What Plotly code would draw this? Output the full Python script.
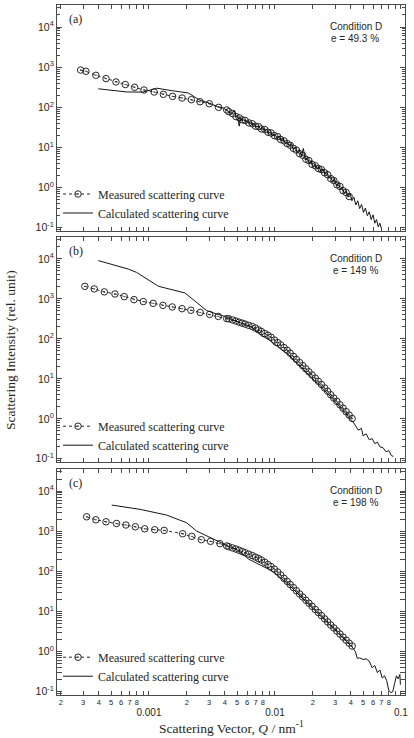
import plotly.graph_objects as go

# ---------------- data ----------------
# Panel (a)  e = 49.3 %
q_meas_a = [2.87e-4, 3.16e-4, 3.79e-4, 4.56e-4, 5.47e-4, 6.49e-4, 7.69e-4, 9.13e-4, 1.10e-3, 1.30e-3,
            1.54e-3, 1.83e-3, 2.17e-3, 2.54e-3, 3.01e-3, 3.57e-3, 4.14e-3,
            0.0043, 0.0046, 0.0049, 0.0052, 0.0055, 0.0058, 0.0062, 0.0066, 0.0070, 0.0074,
            0.0078, 0.0083, 0.0088, 0.0093, 0.0099, 0.0105, 0.0111, 0.0118, 0.0125, 0.0132,
            0.0140, 0.0148, 0.0157, 0.0166, 0.0176, 0.0186, 0.0197, 0.0209, 0.0221, 0.0234,
            0.0248, 0.0262, 0.0277, 0.0293, 0.0310, 0.0328, 0.0347, 0.0367, 0.0388]
i_meas_a = [850, 790, 630, 520, 430, 370, 316, 271, 241, 211,
            188, 171, 155, 138, 123, 100, 86,
            78, 70, 59, 55, 49, 47, 41, 39, 34, 33,
            29, 28, 24, 23, 19.8, 18.6, 15.8, 14.6, 12.5, 11.4,
            9.5, 8.6, 7.0, 6.4, 5.1, 4.7, 3.8, 3.5, 3.0, 2.8,
            2.35, 2.1, 1.68, 1.5, 1.18, 1.07, 0.84, 0.76, 0.60]
q_calc_a = [3.96e-4, 5.2e-4, 6.65e-4, 8.96e-4, 1.15e-3, 1.5e-3, 1.87e-3, 2.05e-3, 2.54e-3, 3.0e-3,
            3.5e-3, 3.9e-3,
            4.3e-3, 4.45e-3, 4.6e-3, 4.75e-3, 4.9e-3, 5.05e-3, 5.2e-3, 5.35e-3, 5.5e-3, 5.7e-3,
            5.9e-3, 6.1e-3, 6.3e-3, 6.5e-3, 6.7e-3, 6.9e-3, 7.1e-3, 7.4e-3, 7.7e-3, 8.0e-3,
            8.3e-3, 8.6e-3, 8.9e-3, 9.2e-3, 9.6e-3, 1.0e-2, 1.04e-2, 1.08e-2, 1.12e-2, 1.16e-2,
            1.2e-2, 1.25e-2, 1.3e-2, 1.35e-2, 1.4e-2, 1.45e-2, 1.5e-2, 1.56e-2, 1.62e-2, 1.68e-2,
            1.74e-2, 1.8e-2, 1.87e-2, 1.94e-2, 2.01e-2, 2.08e-2, 2.16e-2, 2.24e-2, 2.32e-2, 2.4e-2,
            2.49e-2, 2.58e-2, 2.67e-2, 2.77e-2, 2.87e-2, 2.97e-2, 3.08e-2, 3.19e-2, 3.3e-2, 3.42e-2,
            3.54e-2, 3.67e-2, 3.8e-2, 3.94e-2, 4.08e-2, 4.23e-2, 4.38e-2, 4.54e-2, 4.7e-2, 4.87e-2,
            5.04e-2, 5.22e-2, 5.41e-2, 5.6e-2, 5.8e-2, 6.0e-2, 6.2e-2, 6.4e-2, 6.6e-2, 6.8e-2,
            7.0e-2]
i_calc_a = [290, 268, 242, 240, 300, 262, 233, 228, 150, 128,
            105, 96,
            78, 66, 72, 84, 58, 62, 34, 55, 46, 50,
            42, 47, 38, 43, 35, 39, 32, 35, 28, 32,
            25, 29, 22, 25, 19.5, 21.5, 16.5, 19.5, 14.5, 16.8,
            12.8, 14.0, 10.8, 12.6, 8.8, 10.2, 7.3, 9.0, 6.0, 9.5,
            4.9, 5.6, 4.0, 4.8, 3.3, 3.9, 2.9, 3.4, 2.4, 2.95,
            2.1, 2.5, 1.7, 1.95, 1.35, 1.7, 1.08, 1.35, 0.88, 1.05,
            0.72, 0.85, 0.58, 0.72, 0.47, 0.58, 0.37, 0.47, 0.30, 0.38,
            0.24, 0.31, 0.2, 0.25, 0.16, 0.21, 0.13, 0.16, 0.105, 0.13,
            0.095]

# Panel (b)  e = 149 %
q_meas_b = [3.10e-4, 3.68e-4, 4.42e-4, 5.37e-4, 6.37e-4, 7.60e-4, 9.02e-4, 1.08e-3, 1.29e-3, 1.53e-3,
            1.83e-3, 2.15e-3, 2.55e-3, 3.03e-3, 3.55e-3, 4.14e-3,
            0.0043, 0.0046, 0.0049, 0.0052, 0.0055, 0.0058, 0.0062, 0.0066, 0.0070, 0.0074,
            0.0078, 0.0083, 0.0088, 0.0093, 0.0099, 0.0105, 0.0111, 0.0118, 0.0125, 0.0132,
            0.0140, 0.0148, 0.0157, 0.0166, 0.0176, 0.0186, 0.0197, 0.0209, 0.0221, 0.0234,
            0.0248, 0.0262, 0.0277, 0.0293, 0.0310, 0.0328, 0.0347, 0.0367, 0.0388, 0.0410]
i_meas_b = [2065, 1780, 1500, 1330, 1140, 960, 860, 775, 690, 630,
            570, 520, 460, 410, 365, 322,
            318, 298, 279, 262, 247, 234, 218, 204, 186, 168,
            153, 136, 123, 110, 93.5, 81, 70.6, 60.6, 52.1, 43.8,
            36.5, 30.6, 25.5, 21.4, 17.8, 15.0, 12.5, 10.4, 8.7, 7.2,
            5.9, 4.9, 4.0, 3.3, 2.73, 2.24, 1.84, 1.51, 1.24, 1.02]
q_calc_b = [3.96e-4, 6.85e-4, 7.98e-4, 1.19e-3, 1.93e-3, 2.87e-3, 3.44e-3, 4.0e-3, 4.6e-3, 5.2e-3,
            5.8e-3, 6.6e-3, 7.0e-3, 7.4e-3, 7.8e-3, 8.3e-3, 8.8e-3, 9.3e-3, 9.9e-3, 1.05e-2,
            1.11e-2, 1.18e-2, 1.25e-2, 1.32e-2, 1.40e-2, 1.48e-2, 1.57e-2, 1.66e-2, 1.76e-2, 1.86e-2,
            1.97e-2, 2.09e-2, 2.21e-2, 2.34e-2, 2.48e-2, 2.62e-2, 2.77e-2, 2.93e-2, 3.10e-2, 3.28e-2,
            3.47e-2, 3.67e-2, 3.88e-2, 4.10e-2, 4.35e-2, 4.6e-2, 4.85e-2, 5.0e-2, 5.3e-2, 5.6e-2,
            5.9e-2, 6.2e-2, 6.5e-2, 6.8e-2, 7.2e-2, 7.6e-2, 8.0e-2, 8.4e-2, 8.7e-2]
i_calc_b = [9100, 5600, 4600, 2070, 1410, 510, 420, 365, 300, 262,
            228, 195, 160, 150, 118, 110, 98, 88, 70, 66,
            56, 50, 43, 37, 30, 26, 21, 18.5, 14.5, 12.8,
            10.5, 8.6, 7.6, 6.1, 5.1, 4.3, 3.5, 2.9, 2.4, 2.0,
            1.6, 1.33, 1.05, 0.9, 0.68, 0.52, 0.58, 0.38, 0.42, 0.30,
            0.32, 0.24, 0.26, 0.20, 0.19, 0.15, 0.16, 0.12, 0.115]

# Panel (c)  e = 198 %
q_meas_c = [3.20e-4, 3.79e-4, 4.56e-4, 5.53e-4, 6.56e-4, 7.80e-4, 9.25e-4, 1.11e-3, 1.32e-3, 1.85e-3,
            2.19e-3, 2.60e-3, 3.08e-3, 3.66e-3, 4.14e-3,
            0.0043, 0.0046, 0.0049, 0.0052, 0.0055, 0.0058, 0.0062, 0.0066, 0.0070, 0.0074,
            0.0078, 0.0083, 0.0088, 0.0093, 0.0099, 0.0105, 0.0111, 0.0118, 0.0125, 0.0132,
            0.0140, 0.0148, 0.0157, 0.0166, 0.0176, 0.0186, 0.0197, 0.0209, 0.0221, 0.0234,
            0.0248, 0.0262, 0.0277, 0.0293, 0.0310, 0.0328, 0.0347, 0.0367, 0.0388, 0.0410]
i_meas_c = [2290, 1930, 1720, 1560, 1430, 1290, 1150, 1090, 1050, 865,
            745, 615, 560, 490, 430,
            412, 384, 360, 335, 312, 292, 268, 248, 227, 208,
            192, 169, 149, 132, 114, 96.6, 81.3, 67.1, 56.2, 47.2,
            39.4, 33.0, 27.4, 23.0, 19.1, 16.1, 13.5, 11.2, 9.4, 7.9,
            6.55, 5.5, 4.6, 3.9, 3.27, 2.74, 2.30, 1.93, 1.63, 1.38]
q_calc_c = [5.06e-4, 8.5e-4, 1.38e-3, 1.99e-3, 2.39e-3, 2.87e-3, 3.66e-3, 4.3e-3, 4.9e-3, 5.5e-3,
            6.2e-3, 7.0e-3, 7.8e-3, 8.8e-3, 9.9e-3, 1.11e-2, 1.25e-2, 1.40e-2, 1.57e-2, 1.76e-2,
            1.97e-2, 2.21e-2, 2.48e-2, 2.77e-2, 3.10e-2, 3.47e-2, 3.88e-2, 4.10e-2, 4.35e-2, 4.5e-2,
            4.7e-2, 5.0e-2, 5.3e-2, 5.6e-2, 5.9e-2, 6.2e-2, 6.5e-2, 6.8e-2, 7.1e-2, 7.4e-2,
            7.7e-2, 8.0e-2, 8.3e-2, 8.6e-2, 8.9e-2, 9.2e-2, 9.5e-2, 9.8e-2, 9.9e-2]
i_calc_c = [4490, 3510, 2530, 1630, 1010, 760, 519, 420, 360, 280,
            200, 166, 141, 115, 93, 69, 50, 35.5, 25, 17.8,
            12.6, 8.9, 6.2, 4.4, 3.1, 2.2, 1.55, 1.3, 1.0, 0.68,
            0.70, 0.64, 0.66, 0.58, 0.40, 0.45, 0.30, 0.35, 0.22, 0.25,
            0.19, 0.11, 0.095, 0.10, 0.16, 0.25, 0.21, 0.27, 0.15]

panel_labels = ["(a)", "(b)", "(c)"]
condition_text = ["Condition D", "Condition D", "Condition D"]
strain_text = ["e = 49.3 %", "e = 149 %", "e = 198 %"]
series_names = ["Measured scattering curve", "Calculated scattering curve"]

y_tick_vals = [0.1, 1, 10, 100, 1000, 10000]
y_tick_text = ["10<sup>-1</sup>", "10<sup>0</sup>", "10<sup>1</sup>", "10<sup>2</sup>",
               "10<sup>3</sup>", "10<sup>4</sup>"]
x_digit_vals = [2e-4, 3e-4, 4e-4, 5e-4, 6e-4, 7e-4, 8e-4,
                2e-3, 3e-3, 4e-3, 5e-3, 6e-3, 7e-3, 8e-3,
                2e-2, 3e-2, 4e-2, 5e-2, 6e-2, 7e-2, 8e-2]
x_digit_text = ["2", "3", "4", "5", "6", "7", "8",
                "2", "3", "4", "5", "6", "7", "8",
                "2", "3", "4", "5", "6", "7", "8"]
x_decade_vals = [1e-3, 1e-2, 1e-1]
x_decade_text = ["0.001", "0.01", "0.1"]

# ---------------- styling ----------------
SERIF = "Liberation Serif, Times New Roman, serif"
SANS = "Liberation Sans, Arial, sans-serif"
INK = "#262626"
FRAME = "#4a4a4a"
X_RANGE = [-3.73, -0.968]
Y_RANGE = [-1.08, 4.55]

x_minor = [m * 10.0 ** e for e in range(-4, 0) for m in (1, 9)]
y_minor = [m * 10.0 ** e for e in range(-2, 5) for m in (2, 3, 4, 5, 6, 7, 8, 9)]

panels = [
    (q_meas_a, i_meas_a, q_calc_a, i_calc_a),
    (q_meas_b, i_meas_b, q_calc_b, i_calc_b),
    (q_meas_c, i_meas_c, q_calc_c, i_calc_c),
]
y_domains = [[0.6725, 1.0], [0.3377, 0.6638], [0.0, 0.3275]]
legend_y = [0.7123, 0.3758, 0.041]

fig = go.Figure()
layout = dict(
    width=414, height=738, autosize=False,
    margin=dict(l=57, r=9, t=5, b=43),
    paper_bgcolor="white", plot_bgcolor="white",
    font=dict(family=SANS, color=INK),
    annotations=[],
)

for k, (qm, im, qc, ic) in enumerate(panels):
    sfx = "" if k == 0 else str(k + 1)
    lg = "legend" if k == 0 else f"legend{k + 1}"
    fig.add_trace(go.Scatter(
        x=qm, y=im, mode="lines+markers", name=series_names[0],
        line=dict(color=INK, width=1, dash="dot"),
        marker=dict(symbol="circle-open-dot", size=6.5, color=INK, line=dict(width=1, color=INK)),
        xaxis="x" + sfx, yaxis="y" + sfx, legend=lg))
    fig.add_trace(go.Scatter(
        x=qc, y=ic, mode="lines", name=series_names[1],
        line=dict(color="#151515", width=1),
        xaxis="x" + sfx, yaxis="y" + sfx, legend=lg))

    layout["xaxis" + sfx] = dict(
        type="log", range=X_RANGE, domain=[0, 1], anchor="y" + sfx,
        showline=True, linecolor=FRAME, linewidth=1.2, mirror="allticks",
        ticks="inside", ticklen=3.5, tickwidth=1, tickcolor=FRAME,
        tickmode="array", tickvals=x_digit_vals, ticktext=x_digit_text,
        showticklabels=(k == 2), tickangle=0, ticklabelstandoff=0,
        tickfont=dict(family=SANS, size=7.5, color=INK),
        minor=dict(tickmode="array", tickvals=x_minor, ticks="inside", ticklen=4, tickcolor=FRAME),
        showgrid=False, zeroline=False, fixedrange=True,
    )
    layout["yaxis" + sfx] = dict(
        type="log", range=Y_RANGE, domain=y_domains[k], anchor="x" + sfx,
        showline=True, linecolor=FRAME, linewidth=1.2, mirror="allticks",
        ticks="inside", ticklen=5, tickwidth=1, tickcolor=FRAME,
        tickmode="array", tickvals=y_tick_vals, ticktext=y_tick_text,
        tickfont=dict(family=SANS, size=10.5, color=INK),
        minor=dict(tickmode="array", tickvals=y_minor, ticks="inside", ticklen=2.5, tickcolor=FRAME),
        showgrid=False, zeroline=False, fixedrange=True,
    )
    layout[lg] = dict(
        x=0.003, y=legend_y[k], xanchor="left", yanchor="middle",
        bgcolor="rgba(0,0,0,0)", borderwidth=0, itemwidth=30,
        font=dict(family=SERIF, size=12, color=INK), tracegroupgap=0,
    )
    xd, yd = "x" + sfx + " domain", "y" + sfx + " domain"
    layout["annotations"] += [
        dict(text=panel_labels[k], xref=xd, yref=yd, x=0.028, y=0.938,
             xanchor="left", yanchor="middle", showarrow=False,
             font=dict(family=SERIF, size=12, color=INK)),
        dict(text=condition_text[k], xref=xd, yref=yd, x=0.859, y=0.903,
             xanchor="center", yanchor="middle", showarrow=False,
             font=dict(family=SANS, size=10, color=INK)),
        dict(text=strain_text[k], xref=xd, yref=yd, x=0.857, y=0.851,
             xanchor="center", yanchor="middle", showarrow=False,
             font=dict(family=SANS, size=10, color=INK)),
    ]

# decade labels (0.001, 0.01, 0.1) sit a little lower than the 2..8 digits:
# an overlaid axis on the bottom panel carries them (empty trace just registers that axis)
fig.add_trace(go.Scatter(x=[], y=[], xaxis="x4", yaxis="y3", showlegend=False,
                         hoverinfo="skip", mode="lines"))
layout["xaxis4"] = dict(
    type="log", range=X_RANGE, domain=[0, 1], anchor="y3", overlaying="x3", side="bottom",
    showline=False, ticks="", tickmode="array", tickvals=x_decade_vals, ticktext=x_decade_text,
    tickangle=0, ticklabelstandoff=10, tickfont=dict(family=SANS, size=10, color=INK),
    showgrid=False, zeroline=False, fixedrange=True,
)

layout["annotations"] += [
    dict(text="Scattering Intensity (rel. unit)", xref="paper", yref="paper",
         x=-0.135, y=0.5, xanchor="center", yanchor="middle", textangle=-90,
         showarrow=False, font=dict(family=SERIF, size=13.5, color=INK)),
    dict(text="Scattering Vector, <i>Q</i> / nm<sup>-1</sup>", xref="paper", yref="paper",
         x=0.5, y=-0.0464, xanchor="center", yanchor="middle",
         showarrow=False, font=dict(family=SERIF, size=13.5, color=INK)),
]

fig.update_layout(**layout)
fig.write_html("out.html")
